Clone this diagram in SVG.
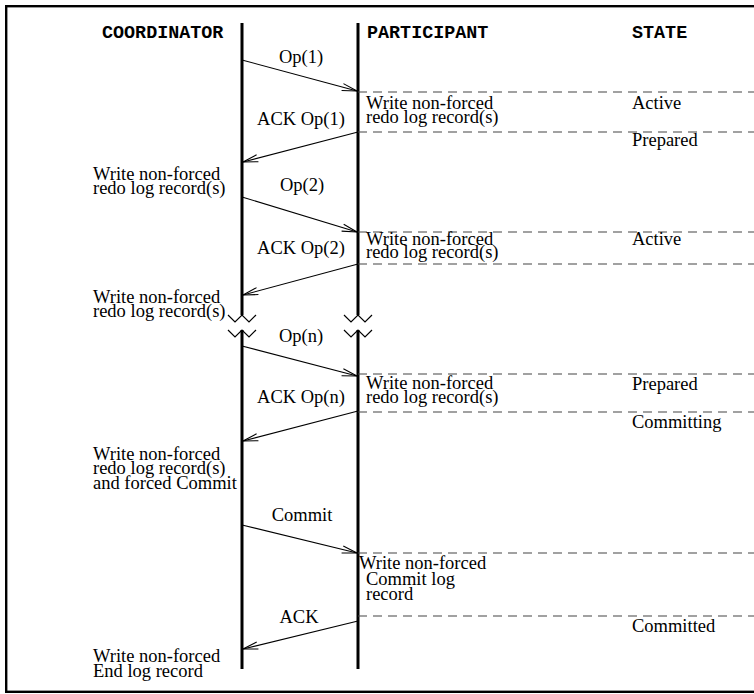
<svg xmlns="http://www.w3.org/2000/svg" width="754" height="694" viewBox="0 0 754 694">
  <style>
    .head { font-family: "Liberation Mono", "Courier New", monospace; font-weight: bold; font-size: 18.4px; fill: #000; }
    .txt { font-family: "Liberation Serif", "Times New Roman", serif; font-size: 18.5px; fill: #000; }
    .mid { text-anchor: middle; }
    .life { stroke: #000; stroke-width: 3; fill: none; }
    .zig { stroke: #000; stroke-width: 1.2; fill: none; }
    .msg { stroke: #000; stroke-width: 1.1; fill: none; marker-end: url(#open); }
    .state { stroke: #444; stroke-width: 1.2; stroke-dasharray: 9 6; fill: none; }
  </style>
  <defs>
    <marker id="open" markerUnits="userSpaceOnUse" markerWidth="20" markerHeight="12" viewBox="-16 -6 17 12" refX="0" refY="0" orient="auto" overflow="visible">
      <path d="M-15,-3.6 L0,0 L-15,3.6" fill="none" stroke="#000" stroke-width="1.1"/>
    </marker>
  </defs>

  <rect x="0" y="0" width="754" height="694" fill="#fff"/>
  <!-- outer frame (right edge runs past the page) -->
  <rect x="6.2" y="6.2" width="770" height="685.6" fill="none" stroke="#000" stroke-width="2.4"/>

  <!-- column headings -->
  <g id="headings">
    <text class="head" x="102" y="38">COORDINATOR</text>
    <text class="head" x="367" y="38">PARTICIPANT</text>
    <text class="head" x="632" y="38">STATE</text>
  </g>

  <!-- lifelines with break marks -->
  <g id="coordinator">
    <path class="life" d="M242,23 V315 M242,330 V669"/>
    <path class="zig" d="M228,315 L235,322 L242,315 L249,322 L256,315"/>
    <path class="zig" d="M228,330 L235,337 L242,330 L249,337 L256,330"/>
  </g>
  <g id="participant">
    <path class="life" d="M358,23 V315 M358,330 V669"/>
    <path class="zig" d="M344,315 L351,322 L358,315 L365,322 L372,315"/>
    <path class="zig" d="M344,330 L351,337 L358,330 L365,337 L372,330"/>
  </g>

  <!-- state boundaries -->
  <g id="state-lines">
    <path class="state" d="M358,92 H760"/>
    <path class="state" d="M358,132 H760"/>
    <path class="state" d="M358,232 H760"/>
    <path class="state" d="M358,264 H760"/>
    <path class="state" d="M358,374 H760"/>
    <path class="state" d="M358,412 H760"/>
    <path class="state" d="M358,553 H760"/>
    <path class="state" d="M358,616 H760"/>
  </g>

  <!-- messages -->
  <g id="connectors">
    <path class="msg" d="M242,60 L357,91"/>
    <path class="msg" d="M358,132 L243,162"/>
    <path class="msg" d="M242,197 L357,232"/>
    <path class="msg" d="M358,264 L243,295"/>
    <path class="msg" d="M242,346 L357,376"/>
    <path class="msg" d="M358,411 L243,441"/>
    <path class="msg" d="M242,525 L357,553"/>
    <path class="msg" d="M358,621 L243,649"/>
  </g>

  <!-- message labels -->
  <g id="msg-labels">
    <text class="txt mid" x="301" y="63">Op(1)</text>
    <text class="txt mid" x="301" y="125">ACK Op(1)</text>
    <text class="txt mid" x="302" y="191">Op(2)</text>
    <text class="txt mid" x="301" y="254">ACK Op(2)</text>
    <text class="txt mid" x="301" y="342">Op(n)</text>
    <text class="txt mid" x="301" y="403">ACK Op(n)</text>
    <text class="txt mid" x="302" y="521">Commit</text>
    <text class="txt mid" x="299" y="623">ACK</text>
  </g>

  <!-- coordinator log actions -->
  <g id="coordinator-log">
    <text class="txt" x="93" y="180">Write non-forced</text>
    <text class="txt" x="93" y="194">redo log record(s)</text>
    <text class="txt" x="93" y="303">Write non-forced</text>
    <text class="txt" x="93" y="317">redo log record(s)</text>
    <text class="txt" x="93" y="460">Write non-forced</text>
    <text class="txt" x="93" y="474">redo log record(s)</text>
    <text class="txt" x="93" y="489">and forced Commit</text>
    <text class="txt" x="93" y="662">Write non-forced</text>
    <text class="txt" x="93" y="677">End log record</text>
  </g>

  <!-- participant log actions -->
  <g id="participant-log">
    <text class="txt" x="366" y="109">Write non-forced</text>
    <text class="txt" x="366" y="123">redo log record(s)</text>
    <text class="txt" x="366" y="245">Write non-forced</text>
    <text class="txt" x="366" y="258">redo log record(s)</text>
    <text class="txt" x="366" y="389">Write non-forced</text>
    <text class="txt" x="366" y="403">redo log record(s)</text>
    <text class="txt" x="359" y="569">Write non-forced</text>
    <text class="txt" x="366" y="585">Commit log</text>
    <text class="txt" x="366" y="600">record</text>
  </g>

  <!-- states -->
  <g id="states">
    <text class="txt" x="632" y="109">Active</text>
    <text class="txt" x="632" y="146">Prepared</text>
    <text class="txt" x="632" y="245">Active</text>
    <text class="txt" x="632" y="390">Prepared</text>
    <text class="txt" x="632" y="428">Committing</text>
    <text class="txt" x="632" y="632">Committed</text>
  </g>
</svg>
